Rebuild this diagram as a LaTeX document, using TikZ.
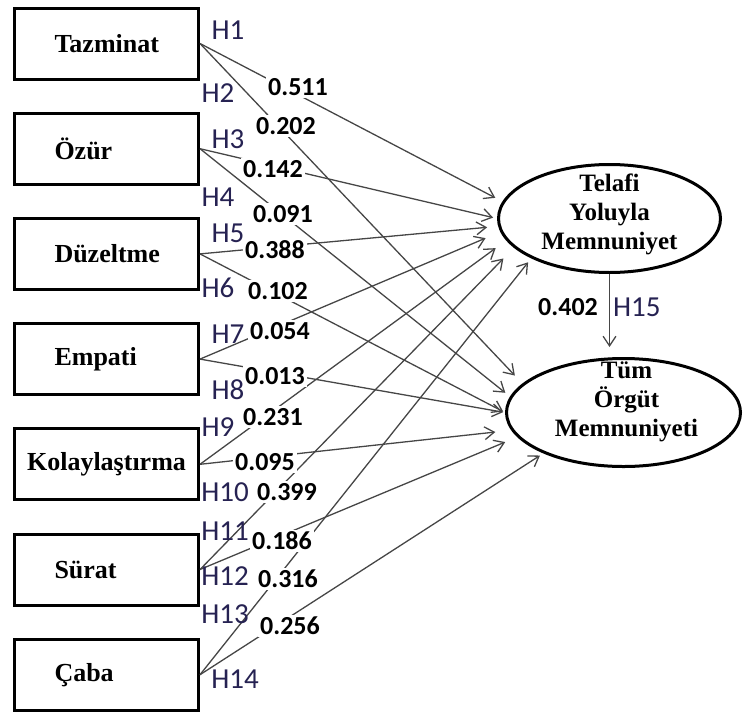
\documentclass[tikz,border=0pt]{standalone}
\usepackage{fontspec}
\setmainfont{Liberation Serif}
\newfontfamily\carlito{Carlito}
\usepackage{tikz}
\usetikzlibrary{arrows.meta,positioning,shapes.geometric}
\definecolor{hblue}{RGB}{38,34,82}
\definecolor{edgegray}{RGB}{70,70,70}

\begin{document}
\begin{tikzpicture}[x=0.5pt,y=-0.5pt,
    construct/.style={draw,line width=1.5pt,minimum width=92pt,minimum height=35.5pt,
        inner xsep=20pt,text width=52pt,align=left,
        font=\fontsize{13}{15}\selectfont\bfseries},
    latent/.style={ellipse,draw,line width=1.5pt,minimum height=54pt},
    latenttext/.style={align=center,inner sep=0pt,font=\fontsize{12.5}{14.5}\selectfont\bfseries},
    relpath/.style={draw=edgegray,line width=0.65pt,-{Straight Barb[length=4.8pt,width=6.4pt]}},
    hyp/.style={font=\carlito\fontsize{14.5}{16}\selectfont,text=hblue,inner sep=0pt},
    coef/.style={font=\carlito\bfseries\fontsize{13}{14}\selectfont,fill=white,inner sep=1pt},
    node distance=15.6pt]
    \useasboundingbox (0,0) rectangle (743,712);

    % constructs
    \node[construct] (taz) at (106.5,43.5) {Tazminat};
    \node[construct, below=of taz] (ozur) {Özür};
    \node[construct, below=of ozur] (duz) {Düzeltme};
    \node[construct, below=of duz] (emp) {Empati};
    \node[construct, below=of emp, inner xsep=5pt, text width=82pt, align=center] (kol) {Kolaylaştırma};
    \node[construct, below=of kol] (sur) {Sürat};
    \node[construct, below=of sur] (caba) {Çaba};

    % outcomes
    \node[latent, minimum width=111pt] (tel) at (609.5,218.5) {};
    \node[latent, minimum width=117pt, below=41.5pt of tel, xshift=7pt] (tum) {};
    \node[latenttext] (telt) at ([yshift=2pt]tel.center) {Telafi\\Yoluyla\\Memnuniyet};
    \node[latenttext] (tumt) at ([yshift=5.5pt,xshift=1.5pt]tum.center) {Tüm\\Örgüt\\Memnuniyeti};

    % paths
    \draw[relpath, shorten >=4pt] (taz.east) -- (tel.171);
    \draw[relpath, shorten >=5.5pt] (taz.east) -- (tum.164);
    \draw[relpath, shorten >=2pt] (ozur.east) -- (tel.180);
    \draw[relpath, shorten >=3pt] (ozur.east) -- (tum.172);
    \draw[relpath, shorten >=5.5pt] (duz.east) -- (tel.184);
    \draw[relpath, shorten >=1pt] (duz.east) -- (tum.180);
    \draw[relpath, shorten >=8pt] (emp.east) -- (tel.187);
    \draw[relpath, shorten >=1pt] (emp.east) -- (tum.180);
    \draw[relpath, shorten >=6.5pt] (kol.east) -- (tel.192);
    \draw[relpath, shorten >=8pt] (kol.east) -- (tum.189);
    \draw[relpath, shorten >=7.5pt] (sur.east) -- (tel.197);
    \draw[relpath, shorten >=6.5pt] (sur.east) -- (tum.193);
    \draw[relpath, shorten >=2.5pt] (caba.east) -- (tel.207);
    \draw[relpath, shorten >=2pt] (caba.east) -- (tum.207);
    \draw[relpath, shorten >=5pt] (tel.south) -- (tel.south |- tum.north)
        node[pos=0.4, left=4.5pt, coef, fill=none] (c15) {0.402}
        node[pos=0.4, right=1.5pt, hyp] (h15) {H15};

    % coefficients
    \node[coef] (c1) at (298,87) {0.511};
    \node[coef] (c2) at (286,126) {0.202};
    \node[coef] (c3) at (273,169) {0.142};
    \node[coef] (c4) at (283,214) {0.091};
    \node[coef] (c5) at (275,250) {0.388};
    \node[coef] (c6) at (278,291) {0.102};
    \node[coef] (c7) at (280,331) {0.054};
    \node[coef] (c8) at (275,376) {0.013};
    \node[coef] (c9) at (273,417) {0.231};
    \node[coef] (c10) at (265,462) {0.095};
    \node[coef] (c11) at (287,492) {0.399};
    \node[coef] (c12) at (282,541) {0.186};
    \node[coef] (c13) at (288,579) {0.316};
    \node[coef] (c14) at (290,626) {0.256};

    % hypotheses
    \node[hyp] (h1) at (228,30) {H1};
    \node[hyp] (h2) at (218,93) {H2};
    \node[hyp] (h3) at (228,139) {H3};
    \node[hyp] (h4) at (218,197) {H4};
    \node[hyp] (h5) at (228,233) {H5};
    \node[hyp] (h6) at (218,288) {H6};
    \node[hyp] (h7) at (228,334) {H7};
    \node[hyp] (h8) at (228,390) {H8};
    \node[hyp] (h9) at (218,427) {H9};
    \node[hyp] (h10) at (225,492) {H10};
    \node[hyp] (h11) at (225,531) {H11};
    \node[hyp] (h12) at (225,576) {H12};
    \node[hyp] (h13) at (225,614) {H13};
    \node[hyp] (h14) at (235,679) {H14};
\end{tikzpicture}
\end{document}
